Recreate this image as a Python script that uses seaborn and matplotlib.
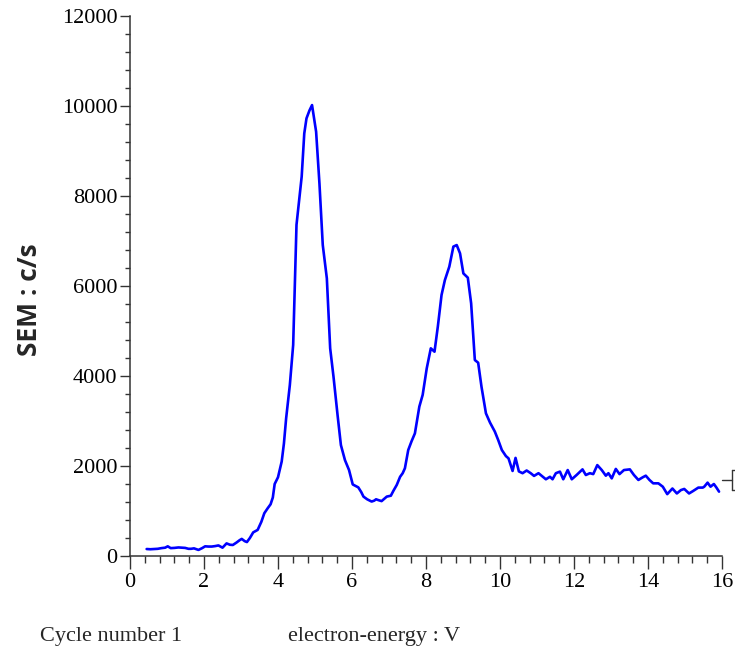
import numpy as np
import pandas as pd
import matplotlib
matplotlib.use("Agg")
import matplotlib.pyplot as plt
from matplotlib.ticker import MultipleLocator
import seaborn as sns

# Electron energy scan (V) and SEM count rate (c/s)
energy = [
    0.45, 0.55, 0.65, 0.75, 0.85, 0.95, 1.02, 1.10, 1.20, 1.31, 1.40, 1.49, 1.58, 1.65,
    1.73, 1.85, 1.95, 2.03, 2.12, 2.21, 2.30, 2.39, 2.50, 2.61, 2.70, 2.78, 2.88, 2.96,
    3.02, 3.10, 3.16, 3.24, 3.33, 3.45, 3.55, 3.63, 3.72, 3.80, 3.86, 3.91, 4.00, 4.10,
    4.16, 4.22, 4.32, 4.41, 4.50, 4.57, 4.64, 4.71, 4.77, 4.85, 4.92, 4.97, 5.03, 5.12,
    5.21, 5.32, 5.41, 5.50, 5.61, 5.70, 5.81, 5.92, 6.02, 6.17, 6.25, 6.31, 6.41, 6.53,
    6.60, 6.65, 6.72, 6.80, 6.94, 7.05, 7.12, 7.21, 7.30, 7.37, 7.43, 7.52, 7.61, 7.70,
    7.82, 7.91, 8.02, 8.13, 8.23, 8.32, 8.42, 8.51, 8.63, 8.74, 8.83, 8.92, 9.01, 9.13,
    9.22, 9.32, 9.41, 9.50, 9.62, 9.73, 9.86, 9.95, 10.05, 10.16, 10.23, 10.34, 10.42,
    10.51, 10.61, 10.72, 10.83, 10.92, 11.04, 11.13, 11.24, 11.35, 11.42, 11.51, 11.62,
    11.71, 11.83, 11.94, 12.07, 12.23, 12.32, 12.43, 12.52, 12.63, 12.75, 12.86, 12.93,
    13.02, 13.13, 13.23, 13.35, 13.51, 13.62, 13.74, 13.86, 13.94, 14.04, 14.14, 14.28,
    14.40, 14.52, 14.66, 14.78, 14.89, 14.98, 15.11, 15.22, 15.36, 15.48, 15.52, 15.61,
    15.69, 15.78, 15.85, 15.92,
]
counts = [
    155, 150, 155, 160, 175, 185, 215, 175, 180, 190, 185, 180, 160, 160,
    170, 135, 175, 215, 210, 210, 220, 235, 185, 280, 250, 245, 300, 350,
    380, 330, 310, 400, 525, 580, 760, 950, 1060, 1150, 1300, 1600, 1750, 2100,
    2500, 3060, 3800, 4690, 7360, 7900, 8430, 9390, 9725, 9900, 10020, 9750, 9430, 8280,
    6910, 6170, 4615, 3985, 3130, 2465, 2130, 1910, 1590, 1525, 1420, 1320, 1260, 1210,
    1230, 1260, 1240, 1220, 1320, 1340, 1450, 1580, 1760, 1840, 1950, 2355, 2550, 2725,
    3320, 3580, 4170, 4615, 4540, 5100, 5800, 6130, 6430, 6875, 6910, 6725, 6280, 6185,
    5615, 4355, 4295, 3760, 3170, 2965, 2765, 2580, 2355, 2220, 2170, 1890, 2180,
    1880, 1840, 1900, 1840, 1780, 1840, 1780, 1705, 1760, 1705, 1840, 1875,
    1705, 1910, 1705, 1800, 1925, 1800, 1840, 1820, 2020, 1910, 1785, 1840,
    1725, 1935, 1820, 1910, 1925, 1800, 1690, 1750, 1785, 1690, 1615, 1615,
    1540, 1375, 1500, 1390, 1465, 1490, 1390, 1445, 1520, 1520, 1540, 1630,
    1540, 1600, 1520, 1430,
]

x_ticks = [0, 2, 4, 6, 8, 10, 12, 14, 16]
y_ticks = [0, 2000, 4000, 6000, 8000, 10000, 12000]

df = pd.DataFrame({"energy": energy, "counts": counts})

sns.set_style("ticks")
plt.rcParams["font.family"] = ["Liberation Serif", "DejaVu Serif"]

fig = plt.figure(figsize=(7.35, 6.48), dpi=100)
ax = fig.add_axes([130 / 735, 1 - 556 / 648, 592 / 735, 540 / 648])

sns.lineplot(data=df, x="energy", y="counts", ax=ax, color="#0000ff",
             linewidth=1.9, estimator=None, sort=False)

ax.set_xlim(0, 16)
ax.set_ylim(0, 12000)
ax.set_xticks(x_ticks)
ax.set_yticks(y_ticks)
ax.xaxis.set_minor_locator(MultipleLocator(0.4))
ax.yaxis.set_minor_locator(MultipleLocator(400))
ax.set_xticklabels([str(v) for v in x_ticks])
ax.set_yticklabels([str(v) for v in y_ticks])

for side in ("top", "right"):
    ax.spines[side].set_visible(False)
for side in ("left", "bottom"):
    ax.spines[side].set_color("#333333")
    ax.spines[side].set_linewidth(1.1)

ax.tick_params(axis="x", which="major", direction="out", length=9.5, width=1.0,
               color="#333333", labelsize=16, pad=2.5, labelcolor="black")
ax.tick_params(axis="x", which="minor", direction="out", length=5, width=1.0,
               color="#333333")
ax.tick_params(axis="y", which="major", direction="out", length=7.5, width=1.0,
               color="#333333", labelsize=16, pad=1.5, labelcolor="black")
ax.tick_params(axis="y", which="minor", direction="out", length=3.8, width=1.0,
               color="#333333")
ax.set_xlabel("")
ax.set_ylabel("")

# Cursor bracket at the right end of the trace
bracket = dict(color="#333333", linewidth=1.0, clip_on=False)
ax.plot([16.0, 16.27], [1690, 1690], **bracket)
ax.plot([16.27, 16.27], [1465, 1910], **bracket)
ax.plot([16.27, 16.6], [1910, 1910], **bracket)
ax.plot([16.27, 16.6], [1465, 1465], **bracket)

fig.text(30 / 735, 1 - 300 / 648, "SEM : c/s", rotation=90, ha="center", va="center",
         fontsize=19, fontweight="bold", family=["Open Sans", "DejaVu Sans"])
fig.text(40 / 735, 1 - 636 / 648, "Cycle number 1", ha="left", va="center", fontsize=16)
fig.text(288 / 735, 1 - 636 / 648, "electron-energy : V", ha="left", va="center", fontsize=16)

fig.savefig("out.png", dpi=100, facecolor="white")
